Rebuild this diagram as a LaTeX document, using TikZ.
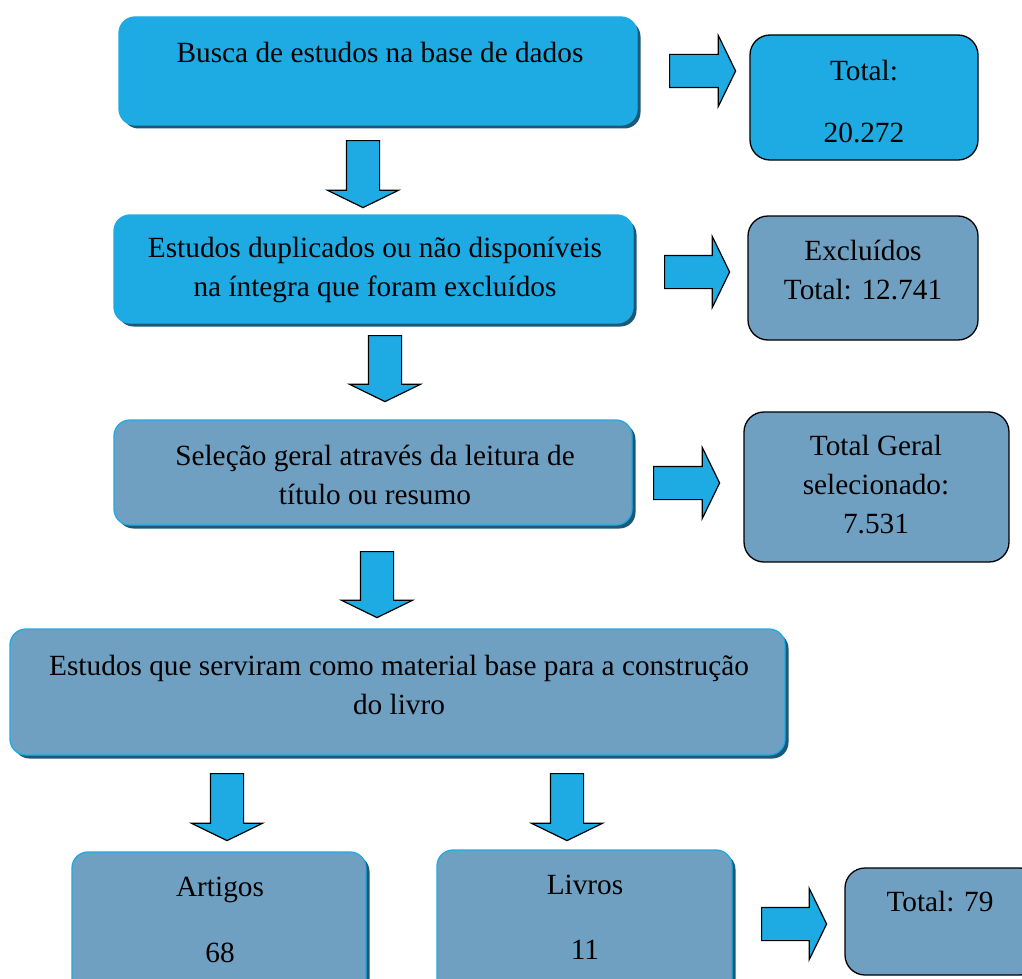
\documentclass[tikz,border=0pt]{standalone}
\usepackage{fontspec}
\setmainfont{Liberation Serif}
\usetikzlibrary{shadows,shapes.arrows}

\begin{document}
\begin{tikzpicture}[x=1pt,y=-1pt,
  caixa/.style={rectangle, rounded corners=16pt, draw=azul, line width=1.3pt, inner sep=0pt,
    drop shadow={shadow xshift=3.5pt, shadow yshift=-3.5pt, fill=sombra, opacity=1}},
  caixatotal/.style={rectangle, rounded corners=20pt, draw=black, line width=1.3pt, inner sep=0pt},
  texto/.style={align=center, inner sep=0pt, font=\fontsize{29.3}{39}\selectfont},
  seta/.style={single arrow, draw=black, fill=azul, line width=1.2pt, inner sep=16pt,
    text width=0pt, text height=0pt, text depth=0pt, single arrow head extend=19pt,
    single arrow tip angle=128, anchor=tail},
  setabaixo/.style={seta, shape border rotate=270}]
\definecolor{azul}{RGB}{30,171,227}
\definecolor{cinza}{RGB}{111,160,193}
\definecolor{sombra}{RGB}{28,88,120}
\useasboundingbox (0,0) rectangle (1022,979);
\clip (0,0) rectangle (1022,979);

\node[caixa, fill=azul, minimum width=518pt, minimum height=108pt] (busca) at (378,71) {};
\node[caixa, fill=azul, minimum width=519pt, minimum height=108pt] (dupl) at (373.5,269) {};
\node[caixa, fill=cinza, minimum width=518pt, minimum height=105pt] (selecao) at (373,472.5) {};
\node[caixa, fill=cinza, minimum width=775pt, minimum height=126pt] (estudos) at (397.5,692) {};
\node[caixa, fill=cinza, minimum width=294pt, minimum height=148pt] (artigos) at (219,926) {};
\node[caixa, fill=cinza, minimum width=295pt, minimum height=150pt] (livros) at (584.5,925) {};

\node[caixatotal, fill=azul, minimum width=228pt, minimum height=125pt] (total) at (864,97.5) {};
\node[caixatotal, fill=cinza, minimum width=230pt, minimum height=124pt] (excl) at (863,278) {};
\node[caixatotal, fill=cinza, minimum width=265pt, minimum height=150pt] (geral) at (876.5,487) {};
\node[caixatotal, fill=cinza, minimum width=195pt, minimum height=107pt] (final) at (942.5,921.5) {};

\node[texto] (buscatxt) at (380,52) {Busca de estudos na base de dados};
\node[texto] (dupltxt) at (375,270) {Estudos duplicados ou não disponíveis\\na íntegra que foram excluídos};
\node[texto] (selecaotxt) at (375,474.5) {Seleção geral através da leitura de\\título ou resumo};
\node[texto] (estudostxt) at (399,684.5) {Estudos que serviram como material base para a construção\\do livro};
\node[texto] (artigostxt) at (220,920) {Artigos\\[27pt]68};
\node[texto] (livrostxt) at (585,917.5) {Livros\\[26pt]11};
\node[texto] (totaltxt) at (864,102) {Total:\\[23pt]20.272};
\node[texto] (excltxt) at (863,270) {Excluídos\\Total: 12.741};
\node[texto] (geraltxt) at (876,485) {Total Geral\\selecionado:\\7.531};
\node[texto] (finaltxt) at (940,902) {Total: 79};

\node[setabaixo, minimum height=67pt] (s1) at (363,140) {};
\node[setabaixo, minimum height=66pt] (s2) at (385,335) {};
\node[setabaixo, minimum height=66pt] (s3) at (377,551) {};
\node[setabaixo, minimum height=67pt] (s4) at (227,773) {};
\node[setabaixo, minimum height=67pt] (s5) at (567,773) {};

\node[seta, minimum height=66pt] (d1) at (669,71) {};
\node[seta, minimum height=65pt] (d2) at (664,272) {};
\node[seta, minimum height=66pt] (d3) at (653,483) {};
\node[seta, minimum height=65pt] (d4) at (761,924) {};
\end{tikzpicture}
\end{document}
